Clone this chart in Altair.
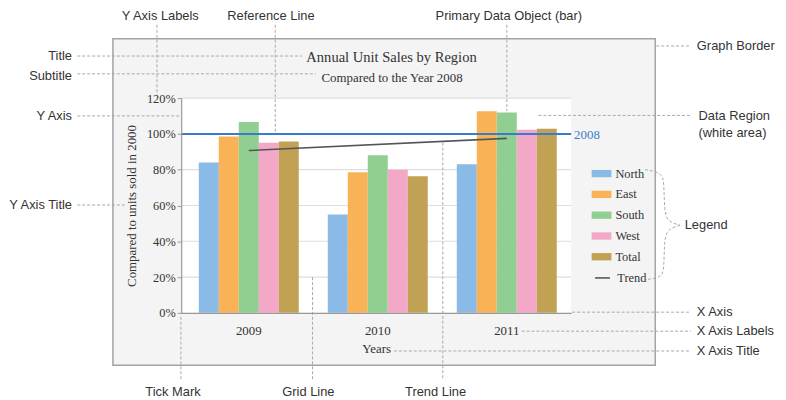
import altair as alt
import pandas as pd

# ---------------- data ----------------
years = ["2009", "2010", "2011"]
regions = ["North", "East", "South", "West", "Total"]
region_colors = ["#8ABAE6", "#FAB257", "#90CF91", "#F3A8C8", "#C1A255"]
north = [0.84, 0.55, 0.83]
east = [0.985, 0.785, 1.127]
south = [1.067, 0.88, 1.12]
west = [0.95, 0.80, 1.023]
total = [0.957, 0.763, 1.029]
trend_years = ["2009", "2011"]
trend_values = [0.907, 0.975]
reference_value = [1.0]
reference_label = ["2008"]
y_ticks = [0, 0.2, 0.4, 0.6, 0.8, 1.0, 1.2]

title_text = "Annual Unit Sales by Region"
subtitle_text = "Compared to the Year 2008"
x_title = "Years"
y_title = "Compared to units sold in 2000"

# ---------------- layout (page pixels) ----------------
OX, OY = 183, 97          # plot-area origin on the page
W, H = 394, 217           # plot-area size
SERIF = "Liberation Serif"
SANS = "Liberation Sans"
TXT = "#333333"
LEAD = "#A8A8A8"

def px(x):
    return x - OX

def py(y):
    return y - OY

one = alt.Data(values=[{}])

bars_df = pd.DataFrame(
    [
        {"year": y, "region": r, "value": v}
        for r, vals in zip(regions, [north, east, south, west, total])
        for y, v in zip(years, vals)
    ]
)
trend_df = pd.DataFrame({"year": trend_years, "value": trend_values, "series": ["Trend"] * 2})
ref_df = pd.DataFrame({"value": reference_value, "label": reference_label})
grid_df = pd.DataFrame({"value": [t for t in y_ticks if t > 0]})

yscale = alt.Scale(domain=[0, 1.2], nice=False)
xscale = alt.Scale(paddingInner=0.225, paddingOuter=0.124, align=0.55)

xaxis = alt.Axis(
    title=x_title, labelAngle=0, ticks=False, domainColor="#999999", domainWidth=1.2,
    labelFont=SERIF, labelFontSize=13, labelColor=TXT, labelPadding=12,
    titleFont=SERIF, titleFontSize=13, titleFontWeight="normal", titleColor=TXT,
    titlePadding=5, zindex=1,
)
yaxis = alt.Axis(
    values=y_ticks, format=".0%", tickSize=4, tickColor="#999999", domainColor="#999999",
    domainWidth=1.2, grid=False, labelFont=SERIF, labelFontSize=12.5, labelColor=TXT,
    labelPadding=2, title=y_title, titleFont=SERIF, titleFontSize=13,
    titleFontWeight="normal", titleColor=TXT, titlePadding=8, zindex=1,
)

# graph border (grey box)
border = alt.Chart(one).mark_rect(fill="#F4F4F4", stroke="#A3A3A3", strokeWidth=1.5).encode(
    x=alt.value(px(114)), x2=alt.value(px(662)), y=alt.value(py(37)), y2=alt.value(py(367))
)
# data region (white)
region = alt.Chart(one).mark_rect(fill="white").encode(
    x=alt.value(0), x2=alt.value(W), y=alt.value(0), y2=alt.value(H)
)
# grid lines
grid = alt.Chart(grid_df).mark_rule(color="#DEDEDE", strokeWidth=1.2).encode(
    y=alt.Y("value:Q", scale=yscale, axis=yaxis)
)

# annotation leader lines
vleaders = [
    # vertical (x, y1, y2)
    (158.5, 23, 95),
    (278, 23, 131),
    (512, 23, 110),
    (182.7, 318, 382),
    (315.7, 278, 382),
    (447.3, 142, 382),
]
hleaders = [
    # horizontal (x1, x2, y)
    (78, 305, 54.5),
    (78, 319, 72.5),
    (78, 181, 115),
    (78, 126, 205),
    (663, 698, 44.3),
    (544, 698, 114.5),
    (578, 698, 313.3),
    (527, 698, 332.5),
    (398, 698, 352.5),
]
lead_rows = [{"x1": px(x), "x2": px(x), "y1": py(a), "y2": py(b)} for x, a, b in vleaders]
lead_rows += [{"x1": px(a), "x2": px(b), "y1": py(y), "y2": py(y)} for a, b, y in hleaders]
lead_chart = alt.Chart(pd.DataFrame(lead_rows)).mark_rule(
    color=LEAD, strokeWidth=1, strokeDash=[3, 2]
).encode(
    x=alt.X("x1:Q", scale=None, axis=None), x2="x2:Q",
    y=alt.Y("y1:Q", scale=None, axis=None), y2="y2:Q",
)

# legend brace
brace_pts = [
    (0, 651.7, 169.3), (0, 668, 172), (0, 671, 181), (0, 671, 212), (0, 675, 222), (0, 687, 225.5),
    (1, 687, 225.5), (1, 675, 229), (1, 671, 239), (1, 671, 270), (1, 668, 278.5), (1, 651.7, 280.5),
]
brace_df = pd.DataFrame(
    [{"half": h, "i": i, "x": px(x), "y": py(y)} for i, (h, x, y) in enumerate(brace_pts)]
)
brace = alt.Chart(brace_df).mark_line(
    interpolate="basis", color=LEAD, strokeWidth=1, strokeDash=[3, 2]
).encode(
    x=alt.X("x:Q", scale=None, axis=None), y=alt.Y("y:Q", scale=None, axis=None),
    detail="half:N", order="i:Q",
)

# annotation labels
ann_left = [
    ("Y Axis Labels", 123, 14.3),
    ("Reference Line", 229.6, 14.3),
    ("Primary Data Object (bar)", 440, 13.8),
    ("Graph Border", 704, 44.3),
    ("Data Region", 705.7, 115),
    ("(white area)", 705.7, 132.3),
    ("Legend", 691.7, 225.7),
    ("X Axis", 704, 313.3),
    ("X Axis Labels", 704, 332.3),
    ("X Axis Title", 704, 352.3),
]
ann_right = [
    ("Title", 72.7, 54.3),
    ("Subtitle", 72.7, 74.5),
    ("Y Axis", 72.7, 114.7),
    ("Y Axis Title", 72.7, 205),
]
ann_center = [
    ("Tick Mark", 174.7, 394.3),
    ("Grid Line", 311.5, 394.3),
    ("Trend Line", 440, 394.3),
]

def ann_chart(items, align):
    df = pd.DataFrame([{"t": t, "x": px(x), "y": py(y)} for t, x, y in items])
    return alt.Chart(df).mark_text(
        align=align, baseline="middle", font=SANS, fontSize=13, color=TXT
    ).encode(
        x=alt.X("x:Q", scale=None, axis=None), y=alt.Y("y:Q", scale=None, axis=None), text="t:N"
    )

# titles
title = alt.Chart(one).mark_text(
    text=title_text, font=SERIF, fontSize=14.7, color=TXT, align="center", baseline="middle"
).encode(x=alt.value(px(395.5)), y=alt.value(py(56.8)))
subtitle = alt.Chart(one).mark_text(
    text=subtitle_text, font=SERIF, fontSize=13, color=TXT, align="center", baseline="middle"
).encode(x=alt.value(px(396)), y=alt.value(py(77)))

# bars
bars = alt.Chart(bars_df).mark_bar().encode(
    x=alt.X("year:N", scale=xscale, axis=xaxis),
    xOffset=alt.XOffset("region:N", sort=regions, scale=alt.Scale(domain=regions, paddingInner=0, paddingOuter=0)),
    y=alt.Y("value:Q", scale=yscale, axis=yaxis),
    color=alt.Color(
        "region:N",
        scale=alt.Scale(domain=regions, range=region_colors),
        legend=alt.Legend(
            title=None, orient="none", legendX=px(597.7), legendY=py(163.3),
            symbolType="M-1,-0.37H1V0.37H-1Z", symbolSize=400, symbolStrokeWidth=0,
            symbolOpacity=1, labelFont=SERIF, labelFontSize=12.5, labelColor=TXT,
            labelOffset=4, rowPadding=4,
        ),
    ),
)

trend = alt.Chart(trend_df).mark_line(strokeWidth=1.6).encode(
    x=alt.X("year:N", scale=xscale, axis=xaxis),
    y=alt.Y("value:Q", scale=yscale, axis=yaxis),
    stroke=alt.Stroke(
        "series:N",
        scale=alt.Scale(domain=["Trend"], range=["#555555"]),
        legend=alt.Legend(
            title=None, orient="none", legendX=px(597.7), legendY=py(267.7),
            symbolType="M-0.75,0H0.75", symbolSize=400, symbolStrokeWidth=1.6,
            labelFont=SERIF, labelFontSize=12.5, labelColor=TXT, labelOffset=4,
        ),
    ),
)

ref_rule = alt.Chart(ref_df).mark_rule(color="#3A7CCB", strokeWidth=2).encode(
    y=alt.Y("value:Q", scale=yscale, axis=yaxis)
)
ref_text = alt.Chart(ref_df).mark_text(
    align="left", baseline="middle", font=SERIF, fontSize=13, color="#3A7CCB", dy=1
).encode(
    x=alt.value(px(580)), y=alt.Y("value:Q", scale=yscale, axis=yaxis), text="label:N"
)

chart = alt.layer(
    border, region, grid, lead_chart, brace,
    bars, trend, ref_rule, ref_text,
    title, subtitle,
    ann_chart(ann_left, "left"), ann_chart(ann_right, "right"), ann_chart(ann_center, "center"),
).properties(
    width=W,
    height=H,
    autosize=alt.AutoSizeParams(type="none"),
    padding={"left": OX - 8, "top": OY - 8, "right": 786 - (OX + W), "bottom": 400 - (OY + H)},
    background="white",
).configure_view(stroke=None)

chart.save("out.html", embed_options={"renderer": "svg", "actions": False})
